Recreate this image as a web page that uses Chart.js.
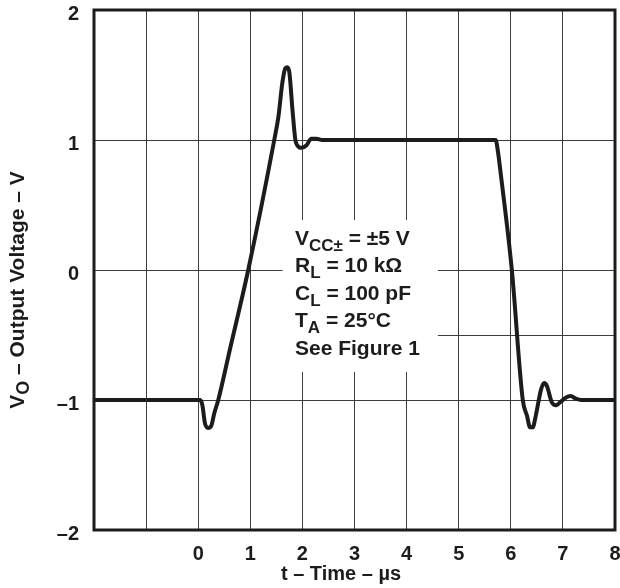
<!DOCTYPE html>
<html>
<head>
<meta charset="utf-8">
<script src="https://cdn.jsdelivr.net/npm/chart.js@4.4.1/dist/chart.umd.min.js"></script>
<style>
  html, body { margin: 0; padding: 0; background: #fff; }
  #wrap { width: 620px; height: 588px; }
</style>
</head>
<body>
<div id="wrap"><canvas id="scope" width="620" height="588"></canvas></div>
<script>
// Output waveform: t in µs, VO in volts
const timeUs = [
  -2, 0, 0.04, 0.08, 0.13, 0.19, 0.25, 0.31, 0.385, 0.615, 0.96, 1.46,
  1.54, 1.615, 1.67, 1.71, 1.75, 1.81, 1.865, 1.9, 1.98, 2.08, 2.17, 2.27, 2.38,
  5.71, 5.75, 5.81, 6.02, 6.23, 6.31, 6.37, 6.42, 6.48, 6.58, 6.64, 6.69,
  6.79, 6.87, 6.94, 7.06, 7.15, 7.25, 7.35, 8
];
const voltsOut = [
  -1, -1, -1, -1.04, -1.18, -1.215, -1.2, -1.1, -1.0, -0.6, 0, 1.0,
  1.18, 1.44, 1.55, 1.56, 1.52, 1.23, 1.0, 0.96, 0.94, 0.96, 1.01, 1.01, 1.0,
  1.0, 0.92, 0.73, 0, -1.0, -1.12, -1.21, -1.21, -1.12, -0.92, -0.87, -0.89,
  -1.02, -1.04, -1.02, -0.98, -0.97, -0.99, -1.0, -1
];

const xTickValues = [-2, -1, 0, 1, 2, 3, 4, 5, 6, 7, 8];
const xTickLabels = ['', '', '0', '1', '2', '3', '4', '5', '6', '7', '8'];
const yTickValues = [2, 1, 0, -1, -2];
const yTickLabels = ['2', '1', '0', '–1', '–2'];

// test conditions block (white panel over the grid)
const noteLines = [
  [['V', 0], ['CC±', 1], [' = ±5 V', 0]],
  [['R', 0], ['L', 1], [' = 10 kΩ', 0]],
  [['C', 0], ['L', 1], [' = 100 pF', 0]],
  [['T', 0], ['A', 1], [' = 25°C', 0]],
  [['See Figure 1', 0]]
];

const FAMILY = "'Liberation Sans', Arial, Helvetica, sans-serif";
const INK = '#1c1c1c';
const GRID = '#3c3c3c';

function drawRuns(ctx, runs, x, y, size, subSize, subDrop) {
  let cx = x;
  runs.forEach(([txt, sub]) => {
    ctx.font = `bold ${sub ? subSize : size}px ${FAMILY}`;
    ctx.fillText(txt, cx, y + (sub ? subDrop : 0));
    cx += ctx.measureText(txt).width;
  });
  return cx - x;
}

function runsWidth(ctx, runs, size, subSize) {
  let w = 0;
  runs.forEach(([txt, sub]) => {
    ctx.font = `bold ${sub ? subSize : size}px ${FAMILY}`;
    w += ctx.measureText(txt).width;
  });
  return w;
}

const panelPlugin = {
  id: 'panel',
  beforeDatasetsDraw(chart) {
    const { ctx, scales: { x, y } } = chart;
    ctx.save();
    // blank box behind the conditions text
    const bx0 = x.getPixelForValue(1.62), bx1 = x.getPixelForValue(4.6);
    const by0 = y.getPixelForValue(0.385), by1 = y.getPixelForValue(-0.785);
    ctx.fillStyle = '#fff';
    ctx.fillRect(bx0, by0, bx1 - bx0, by1 - by0);
    // stray half-volt rule to the right of the box
    const yy = Math.round(y.getPixelForValue(-0.5)) + 0.5;
    ctx.strokeStyle = GRID;
    ctx.lineWidth = 1;
    ctx.beginPath();
    ctx.moveTo(bx1, yy);
    ctx.lineTo(x.getPixelForValue(8), yy);
    ctx.stroke();
    ctx.restore();
  },
  afterDatasetsDraw(chart) {
    const { ctx, chartArea: a } = chart;
    ctx.save();
    ctx.strokeStyle = INK;
    ctx.lineWidth = 3;
    ctx.strokeRect(a.left, a.top, a.right - a.left, a.bottom - a.top);

    ctx.fillStyle = INK;
    ctx.textAlign = 'left';
    ctx.textBaseline = 'alphabetic';
    const baselines = [245, 272, 300, 327, 355];
    noteLines.forEach((runs, i) => drawRuns(ctx, runs, 295, baselines[i], 21, 17, 6));

    // x title
    ctx.font = `bold 20px ${FAMILY}`;
    ctx.textAlign = 'center';
    ctx.fillText('t – Time – µs', 341, 580);

    // y title, rotated, with subscript O
    const yTitle = [['V', 0], ['O', 1], [' – Output Voltage – V', 0]];
    ctx.translate(24, 290);
    ctx.rotate(-Math.PI / 2);
    ctx.textAlign = 'left';
    const w = runsWidth(ctx, yTitle, 21, 18);
    drawRuns(ctx, yTitle, -w / 2, 0, 21, 18, 5);
    ctx.restore();
  }
};

const tickFont = { family: FAMILY, size: 20, weight: 'bold' };

new Chart(document.getElementById('scope'), {
  type: 'line',
  data: {
    datasets: [{
      data: timeUs.map((t, i) => ({ x: t, y: voltsOut[i] })),
      borderColor: INK,
      borderWidth: 4,
      borderJoinStyle: 'round',
      borderCapStyle: 'round',
      cubicInterpolationMode: 'monotone',
      pointRadius: 0,
      fill: false
    }]
  },
  options: {
    responsive: false,
    animation: false,
    devicePixelRatio: 1,
    layout: { padding: { left: 0, right: 5, top: 10, bottom: 0 } },
    plugins: { legend: { display: false }, tooltip: { enabled: false } },
    scales: {
      x: {
        type: 'linear',
        min: -2,
        max: 8,
        afterBuildTicks: s => { s.ticks = xTickValues.map(v => ({ value: v })); },
        afterFit: s => { s.height = 58; s.paddingLeft = 0; s.paddingRight = 0; },
        grid: { color: GRID, lineWidth: 1, drawTicks: false },
        border: { display: false },
        ticks: {
          callback: v => xTickLabels[xTickValues.indexOf(v)],
          font: tickFont,
          color: INK,
          padding: 12,
          maxRotation: 0,
          autoSkip: false
        }
      },
      y: {
        min: -2,
        max: 2,
        afterBuildTicks: s => { s.ticks = yTickValues.map(v => ({ value: v })); },
        afterFit: s => { s.width = 94; s.paddingTop = 0; s.paddingBottom = 0; },
        grid: { color: GRID, lineWidth: 1, drawTicks: false },
        border: { display: false },
        ticks: {
          callback: v => yTickLabels[yTickValues.indexOf(v)],
          font: tickFont,
          color: INK,
          padding: 15,
          labelOffset: 4,
          autoSkip: false
        }
      }
    }
  },
  plugins: [panelPlugin]
});
</script>
</body>
</html>
